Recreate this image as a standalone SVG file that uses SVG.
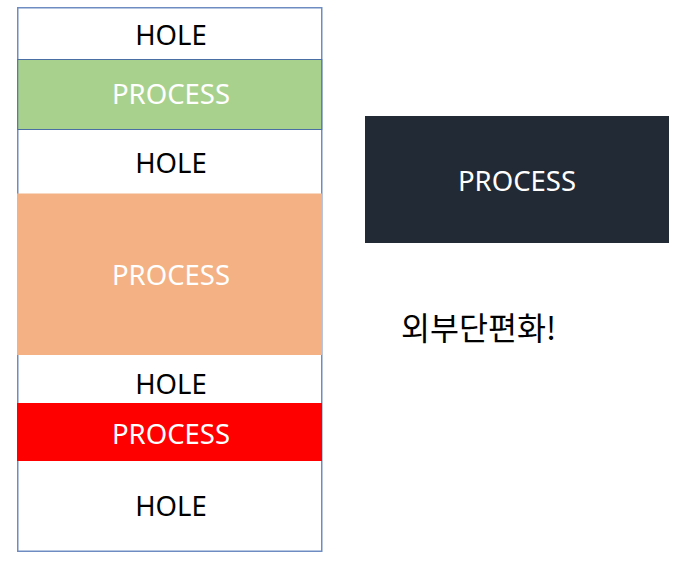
<svg xmlns="http://www.w3.org/2000/svg" width="680" height="568" viewBox="0 0 680 568">
<style>
.t{font-family:"Noto Sans","Open Sans","Liberation Sans",sans-serif;font-size:27.5px;text-anchor:middle}
.hole{fill:#000000}
.proc{fill:#ffffff}
.kr{font-family:"Noto Sans CJK KR","Noto Sans",sans-serif;font-size:31.5px;fill:#000000}
</style>
<rect width="680" height="568" fill="#ffffff"/>
<g id="memory">
<rect x="17.75" y="7.75" width="304" height="543.5" fill="#ffffff" stroke="#6f8cc2" stroke-width="1.5"/>
</g>
<g id="hole1"><text class="t hole" x="171" y="44.5">HOLE</text></g>
<g id="process1">
<rect x="17.75" y="59.5" width="304" height="70" fill="#a9d18e" stroke="#4a6fa5" stroke-width="1"/>
<text class="t proc" x="171" y="104">PROCESS</text>
</g>
<g id="hole2"><text class="t hole" x="171" y="173">HOLE</text></g>
<g id="process2">
<rect x="17" y="193.5" width="305" height="161.5" fill="#f4b183"/>
<text class="t proc" x="171" y="285">PROCESS</text>
</g>
<g id="hole3"><text class="t hole" x="171" y="394">HOLE</text></g>
<g id="process3">
<rect x="17" y="403" width="305" height="58" fill="#ff0000"/>
<text class="t proc" x="171" y="444">PROCESS</text>
</g>
<g id="hole4"><text class="t hole" x="171" y="516">HOLE</text></g>
<g id="newprocess">
<rect x="365" y="116" width="304" height="127" fill="#222a35"/>
<text class="t proc" x="517" y="191">PROCESS</text>
</g>
<g id="label">
<text class="kr" x="401" y="340">외부단편화!</text>
</g>
<g id="connectors"/>
</svg>
